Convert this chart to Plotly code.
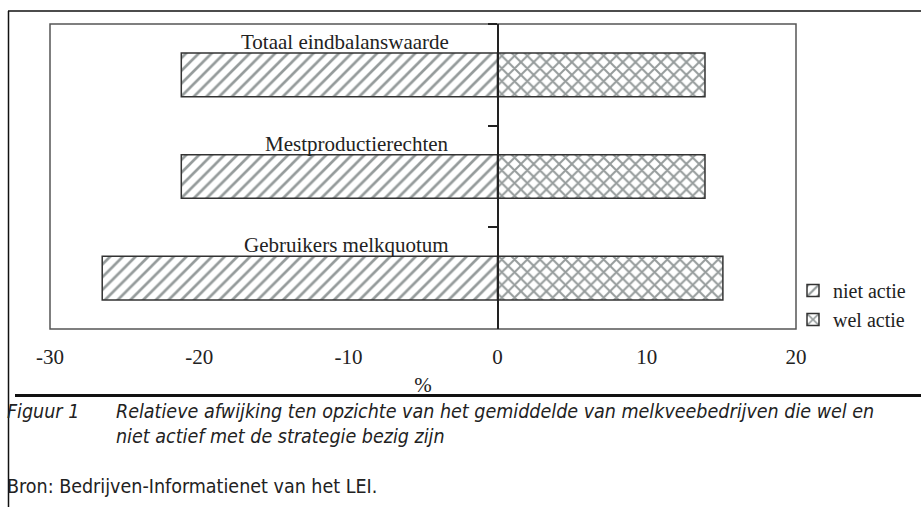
import plotly.graph_objects as go

categories = ["Totaal eindbalanswaarde", "Mestproductierechten", "Gebruikers melkquotum"]
niet_actief = [-21.2, -21.2, -26.5]
wel_actief = [13.9, 13.9, 15.1]
series_names = ["niet actie", "wel actie"]
x_ticks = [-30, -20, -10, 0, 10, 20]

W, H = 922, 508
L, R, T, B = 50, 796, 24, 329  # plot area in pixels


def px(xp):
    return (xp - L) / (R - L)


def py(yp):
    return (B - yp) / (B - T)


serif = "Liberation Serif, Times New Roman, serif"
narrow = "Liberation Sans Narrow, Arial Narrow, DejaVu Sans Condensed, sans-serif"
ink = "#222222"
hatch = "#2c3838"

fig = go.Figure()
fig.add_trace(go.Bar(
    y=categories, x=niet_actief, orientation="h", name=series_names[0],
    width=0.43,
    marker=dict(color="white", line=dict(color="#333333", width=1.5),
                pattern=dict(shape="/", size=9, solidity=0.3, fgcolor=hatch, bgcolor="white")),
))
fig.add_trace(go.Bar(
    y=categories, x=wel_actief, orientation="h", name=series_names[1],
    width=0.43,
    marker=dict(color="white", line=dict(color="#333333", width=1.5),
                pattern=dict(shape="x", size=9, solidity=0.4, fgcolor=hatch, bgcolor="white")),
))

annotations = []
for c in categories:
    annotations.append(dict(x=-3.1, y=c, xref="x", yref="y", text=c, showarrow=False,
                            xanchor="right", yanchor="middle", yshift=33,
                            font=dict(family=serif, size=21, color=ink)))

cap_font = dict(family=narrow, size=19.5, color=ink)
annotations += [
    dict(x=px(5), y=py(411), xref="paper", yref="paper", text="<i>Figuur 1</i>", showarrow=False,
         xanchor="left", yanchor="middle", font=cap_font),
    dict(x=px(114), y=py(411), xref="paper", yref="paper",
         text="<i>Relatieve afwijking ten opzichte van het gemiddelde van melkveebedrijven die wel en</i>",
         showarrow=False, xanchor="left", yanchor="middle", font=cap_font),
    dict(x=px(114), y=py(436), xref="paper", yref="paper",
         text="<i>niet actief met de strategie bezig zijn</i>",
         showarrow=False, xanchor="left", yanchor="middle", font=cap_font),
    dict(x=px(5), y=py(486), xref="paper", yref="paper",
         text="Bron: Bedrijven-Informatienet van het LEI.",
         showarrow=False, xanchor="left", yanchor="middle", font=cap_font),
]

frame = dict(color="#111111", width=1.5)
shapes = [
    dict(type="rect", xref="paper", yref="paper", x0=0, x1=1, y0=0, y1=1,
         line=dict(color="#555555", width=1.5), layer="below"),
    dict(type="line", xref="paper", yref="paper", x0=px(8), x1=px(921), y0=py(11), y1=py(11),
         line=frame, layer="above"),
    dict(type="line", xref="paper", yref="paper", x0=px(8.5), x1=px(8.5), y0=py(11), y1=py(507),
         line=frame, layer="above"),
    dict(type="line", xref="paper", yref="paper", x0=px(15), x1=px(921), y0=py(395.5), y1=py(395.5),
         line=dict(color="#111111", width=3), layer="above"),
]

zero_pos = (0 - x_ticks[0]) / (x_ticks[-1] - x_ticks[0])

fig.update_layout(
    width=W, height=H,
    margin=dict(l=L, r=W - R, t=T, b=H - B, pad=0, autoexpand=False),
    paper_bgcolor="white", plot_bgcolor="white",
    barmode="relative",
    showlegend=True,
    legend=dict(xref="container", yref="container", x=793 / W, y=1 - 271 / H,
                xanchor="left", yanchor="top", traceorder="normal",
                font=dict(family=serif, size=20, color=ink), bgcolor="rgba(0,0,0,0)",
                itemwidth=30, tracegroupgap=0),
    xaxis=dict(range=[x_ticks[0], x_ticks[-1]], tickvals=x_ticks, ticktext=[str(v) for v in x_ticks],
               showgrid=False, zeroline=False, showline=False,
               ticks="outside", ticklen=9, tickcolor="rgba(0,0,0,0)",
               tickfont=dict(family=serif, size=21, color=ink),
               title=dict(text="%", standoff=9, font=dict(family=serif, size=21, color=ink))),
    yaxis=dict(type="category", categoryorder="array", categoryarray=categories,
               autorange="reversed", anchor="free", position=zero_pos,
               showline=True, linecolor="#222222", linewidth=1.5,
               ticks="outside", tickson="boundaries", ticklen=9, tickcolor="#222222", tickwidth=1.5,
               showticklabels=False, showgrid=False, zeroline=False),
    annotations=annotations,
    shapes=shapes,
)

fig.write_html("out.html", config={"displayModeBar": False},
               post_script="document.body.style.margin='0';document.body.style.overflow='hidden';")
